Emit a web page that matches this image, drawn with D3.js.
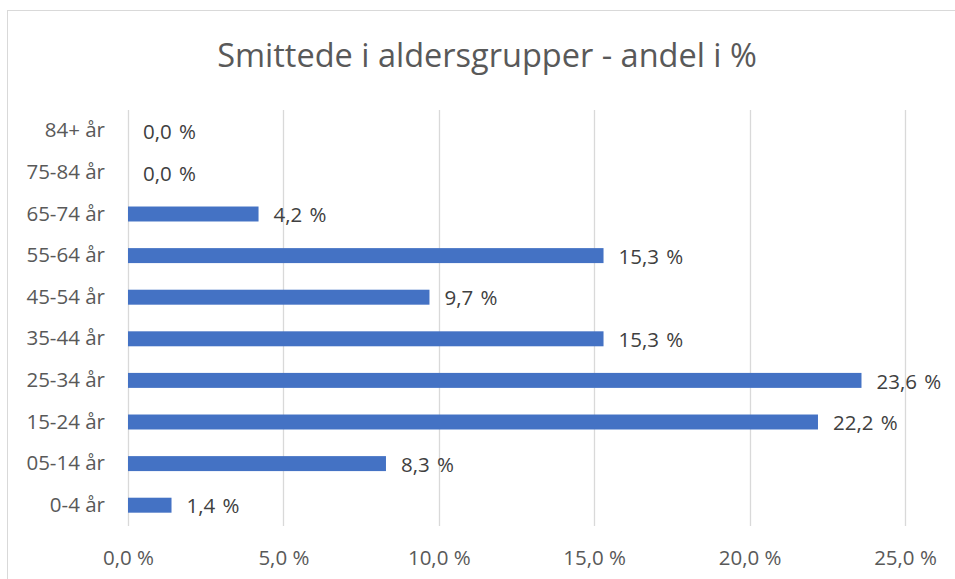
<!DOCTYPE html>
<html>
<head>
<meta charset="utf-8">
<script src="https://cdn.jsdelivr.net/npm/d3@7"></script>
<style>
  html, body { margin: 0; padding: 0; background: #fff; }
  svg { display: block; font-family: "Open Sans", Lato, sans-serif; }
</style>
</head>
<body>
<div id="chart"></div>
<script>
const categories = ["84+ år", "75-84 år", "65-74 år", "55-64 år", "45-54 år", "35-44 år", "25-34 år", "15-24 år", "05-14 år", "0-4 år"];
const values = [0.0, 0.0, 4.2, 15.3, 9.7, 15.3, 23.6, 22.2, 8.3, 1.4];
const xTicks = [0, 5, 10, 15, 20, 25];
const title = "Smittede i aldersgrupper - andel i %";

const width = 955;
const height = 579;
const textColor = "#595959";
const font = "'Open Sans', Lato, sans-serif";
const labelSize = 20.5;

const locale = d3.formatLocale({ decimal: ",", thousands: " ", grouping: [3], currency: ["", ""] });
const fmt = v => locale.format(".1f")(v) + " %";

const svg = d3.select("#chart")
    .append("svg")
    .attr("width", width)
    .attr("height", height);

// chart frame
svg.append("rect")
    .attr("x", 7.5)
    .attr("y", 10.5)
    .attr("width", 960)
    .attr("height", 600)
    .attr("fill", "#fff")
    .attr("stroke", "#d9d9d9");

svg.append("text")
    .attr("x", 487)
    .attr("y", 67)
    .attr("text-anchor", "middle")
    .attr("font-size", 32.5)
    .attr("fill", textColor)
    .text(title);

const x = d3.scaleLinear()
    .domain([0, 25])
    .range([128, 905]);

const y = d3.scaleBand()
    .domain(categories)
    .range([110, 526])
    .paddingInner(0.64)
    .paddingOuter(0.32);

// gridlines
svg.append("g")
    .selectAll("line")
    .data(xTicks)
    .join("line")
    .attr("x1", d => Math.round(x(d)) + 0.5)
    .attr("x2", d => Math.round(x(d)) + 0.5)
    .attr("y1", 110)
    .attr("y2", 526)
    .attr("stroke", "#d9d9d9")
    .attr("stroke-width", 1.3);

// x axis labels
const xAxis = svg.append("g")
    .attr("transform", "translate(0,526)")
    .call(d3.axisBottom(x).tickValues(xTicks).tickFormat(fmt).tickSize(0).tickPadding(24));
xAxis.select(".domain").remove();
xAxis.selectAll("text")
    .attr("font-family", font)
    .attr("font-size", labelSize)
    .attr("fill", textColor);

// y axis labels
const yAxis = svg.append("g")
    .attr("transform", "translate(105,0)")
    .call(d3.axisLeft(y).tickSize(0).tickPadding(0));
yAxis.select(".domain").remove();
yAxis.selectAll("text")
    .attr("font-family", font)
    .attr("font-size", labelSize)
    .attr("fill", textColor);

// bars
svg.append("g")
    .selectAll("rect")
    .data(values)
    .join("rect")
    .attr("x", x(0))
    .attr("y", (d, i) => y(categories[i]))
    .attr("width", d => x(d) - x(0))
    .attr("height", y.bandwidth())
    .attr("fill", "#4472c4");

// value labels
svg.append("g")
    .selectAll("text")
    .data(values)
    .join("text")
    .attr("x", d => x(d) + 15)
    .attr("y", (d, i) => y(categories[i]) + y.bandwidth() / 2)
    .attr("dy", "0.4em")
    .attr("font-size", labelSize)
    .attr("word-spacing", 2)
    .attr("fill", "#404040")
    .text(d => fmt(d));
</script>
</body>
</html>
